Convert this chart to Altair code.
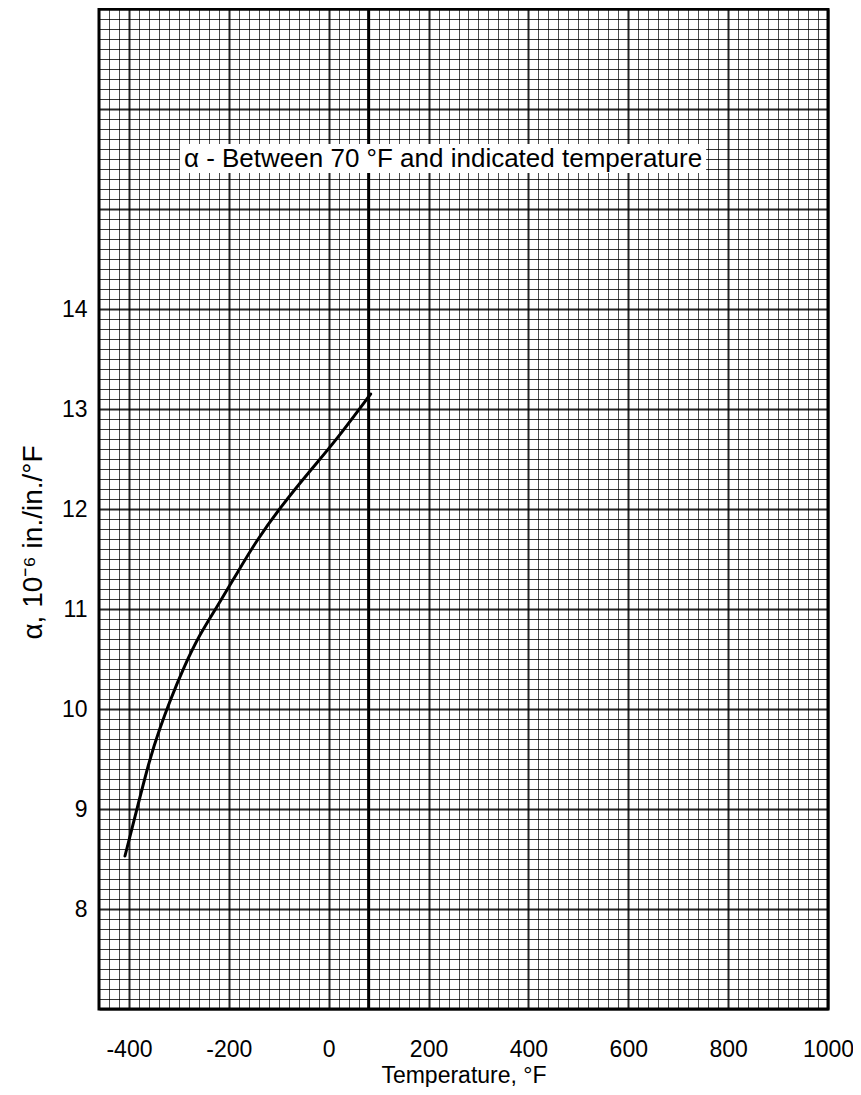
import altair as alt
import pandas as pd

# Curve data
temp_f = [-408, -385, -358, -338, -318, -291, -258, -225, -181, -145, -98, -38, 9, 84]
alpha = [8.53, 8.98, 9.51, 9.81, 10.08, 10.41, 10.75, 11.01, 11.38, 11.68, 12.01, 12.38, 12.65, 13.15]

# Reference line (room temperature)
ref_temp = [80]

# Axis ranges and grid values
x_domain = [-460, 1000]
y_domain = [7, 17]
x_grid = list(range(-460, 1001, 20))
y_grid = [round(7 + 0.1 * i, 1) for i in range(101)]

# Annotation
note_text = ["\u03b1 - Between 70 \u00b0F and indicated temperature"]
note_x = [229]
note_y = [15.50]
note_box_x = [-298]
note_box_x2 = [756]
note_box_y = [15.36]
note_box_y2 = [15.65]

FONT = "Liberation Sans"

curve_df = pd.DataFrame({"t": temp_f, "a": alpha})
ref_df = pd.DataFrame({"t": ref_temp})
note_df = pd.DataFrame({"label": note_text, "t": note_x, "a": note_y,
                        "bx": note_box_x, "bx2": note_box_x2,
                        "by": note_box_y, "by2": note_box_y2})

xscale = alt.Scale(domain=x_domain, nice=False, zero=False)
yscale = alt.Scale(domain=y_domain, nice=False, zero=False)

x_axis = alt.Axis(
    values=x_grid, tickCount=len(x_grid) + 10,
    labelExpr="datum.value % 200 == 0 ? '' + datum.value : ''",
    ticks=False, domain=False, labelOverlap=False, labelFlush=False,
    labelFont=FONT, labelFontSize=23, labelColor="black", labelPadding=29,
    grid=True, gridColor="black",
    gridWidth={"condition": {"test": "datum.value % 200 == 0", "value": 2}, "value": 1},
    gridOpacity={"condition": {"test": "datum.value % 200 == 0", "value": 0.85}, "value": 0.7},
    title="Temperature, \u00b0F", titleFont=FONT, titleFontSize=23,
    titleFontWeight="normal", titleColor="black", titleY=73,
    titleBaseline="alphabetic",
)
y_axis = alt.Axis(
    values=y_grid, tickCount=len(y_grid) + 10,
    labelExpr="(abs(datum.value - round(datum.value)) < 0.001 && datum.value >= 8 && datum.value <= 14) ? '' + round(datum.value) : ''",
    ticks=False, domain=False, labelOverlap=False, labelFlush=False,
    labelFont=FONT, labelFontSize=23, labelColor="black", labelPadding=12,
    grid=True, gridColor="black",
    gridWidth={"condition": {"test": "abs(datum.value - round(datum.value)) < 0.001", "value": 2}, "value": 1},
    gridOpacity={"condition": {"test": "abs(datum.value - round(datum.value)) < 0.001", "value": 0.85}, "value": 0.8},
    title="\u03b1, 10\u207b\u2076 in./in./\u00b0F", titleFont=FONT, titleFontSize=28,
    titleFontWeight="normal", titleColor="black",
    titleAngle=270, titleX=-66, titleY=533, titleAlign="center", titleBaseline="middle",
)

curve = alt.Chart(curve_df).mark_line(
    color="black", strokeWidth=3, interpolate="basis", strokeCap="round"
).encode(
    x=alt.X("t:Q", scale=xscale, axis=x_axis),
    y=alt.Y("a:Q", scale=yscale, axis=y_axis),
)

ref_line = alt.Chart(ref_df).mark_rule(color="black", strokeWidth=3).encode(
    x=alt.X("t:Q", scale=xscale),
)

box = alt.Chart(note_df).mark_rect(fill="white").encode(
    x=alt.X("bx:Q", scale=xscale), x2="bx2:Q",
    y=alt.Y("by:Q", scale=yscale), y2="by2:Q",
)

note = alt.Chart(note_df).mark_text(
    font=FONT, fontSize=26, color="black", align="center", baseline="middle"
).encode(
    x=alt.X("t:Q", scale=xscale),
    y=alt.Y("a:Q", scale=yscale),
    text="label:N",
)

chart = alt.layer(curve, ref_line, box, note).properties(
    width=729, height=1000,
    padding={"left": 91, "top": 1, "right": 25, "bottom": 78},
    autosize=alt.AutoSizeParams(type="none"),
    background="white",
).configure_view(
    stroke="black", strokeWidth=3
)

chart.save("out.html", embed_options={"renderer": "svg", "actions": False})
